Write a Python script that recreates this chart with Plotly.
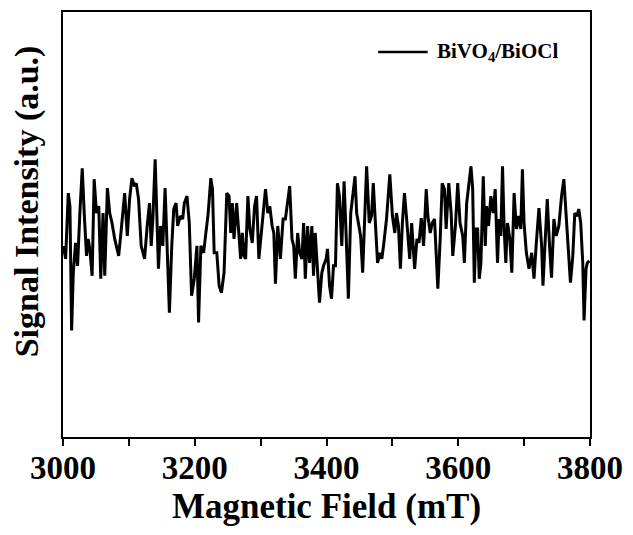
import plotly.graph_objects as go

# EPR spectrum
field_mT = [
    3000.5, 3004.0, 3008.0, 3010.5, 3013.1, 3015.6, 3019.1, 3022.1, 3025.6, 3029.2,
    3032.2, 3035.7, 3038.2, 3040.7, 3044.2, 3047.3, 3050.8, 3054.3, 3057.3, 3060.8,
    3063.4, 3067.4, 3070.9, 3074.4, 3078.5, 3084.5, 3088.5, 3093.6, 3097.6, 3101.1,
    3104.6, 3108.6, 3111.2, 3114.7, 3118.7, 3122.7,
    3123.8, 3127.8, 3131.3, 3133.9, 3136.4, 3139.9, 3142.9, 3144.9, 3148.0, 3151.5,
    3155.0, 3158.0, 3161.5, 3165.1, 3168.1, 3171.6, 3174.1, 3178.1, 3181.7, 3184.2,
    3188.2, 3191.7, 3195.2, 3199.3, 3203.3, 3205.8, 3209.3, 3213.4, 3216.9, 3220.4,
    3224.4, 3226.9, 3229.5, 3233.5, 3237.0, 3240.5, 3244.5, 3248.6, 3252.1, 3254.6,
    3257.1, 3259.6,
    3263.6, 3267.1, 3269.7, 3272.2, 3274.7, 3277.2, 3280.7, 3283.7, 3287.3, 3290.8,
    3293.8, 3297.3, 3300.9, 3303.9, 3307.4, 3310.9, 3313.9, 3317.5, 3320.0, 3322.5,
    3326.0, 3330.0, 3334.1, 3337.6, 3341.1, 3344.1, 3347.6, 3350.2, 3352.7, 3356.2,
    3359.2, 3362.7, 3365.3, 3367.8, 3371.3, 3374.3, 3377.8, 3380.3, 3382.9, 3386.4,
    3389.4, 3392.9,
    3395.5, 3399.5, 3401.5, 3404.6, 3407.6, 3410.6, 3413.6, 3416.6, 3419.6, 3423.2,
    3426.7, 3429.7, 3433.2, 3436.8, 3439.8, 3443.3, 3445.8, 3449.8, 3451.8, 3454.9,
    3458.4, 3460.9, 3464.9, 3468.4, 3471.0, 3475.0, 3477.5, 3481.0, 3484.0, 3487.1,
    3491.1, 3496.1, 3500.1, 3503.7, 3506.2, 3509.2, 3512.2, 3515.2, 3518.3, 3521.3,
    3524.3, 3526.3, 3529.3,
    3533.8, 3537.3, 3540.4, 3543.9, 3547.4, 3551.4, 3553.9, 3557.5, 3560.5, 3564.0,
    3566.5, 3569.0, 3572.6, 3575.6, 3579.1, 3581.6, 3585.6, 3589.2, 3591.7, 3595.7,
    3599.2, 3602.7, 3606.8, 3609.3, 3612.8, 3615.8, 3619.3, 3621.9, 3624.4, 3626.9,
    3629.4, 3631.9, 3634.4, 3638.0, 3641.0, 3643.0, 3646.0, 3649.5, 3653.1, 3656.1,
    3659.6, 3662.1, 3664.6,
    3667.2, 3669.7, 3672.2, 3674.7, 3678.3, 3681.3, 3684.8, 3688.3, 3691.3, 3694.9,
    3697.4, 3699.9, 3703.4, 3707.4, 3711.5, 3715.0, 3718.5, 3722.5, 3726.6, 3728.6,
    3731.6, 3735.1, 3738.6, 3741.6, 3745.2, 3748.7, 3752.7, 3756.8, 3760.3, 3763.8,
    3766.8, 3770.3, 3773.9, 3776.9, 3780.4, 3782.9, 3785.9, 3789.0, 3791.0, 3794.0,
    3796.0, 3799.0,
]
intensity = [
    0.05, -0.08, 0.58, 0.45, -0.80, -0.22, 0.08, -0.15, 0.38, 0.83,
    0.38, -0.05, 0.12, 0.02, -0.25, 0.72, 0.38, 0.45, -0.28, 0.38,
    -0.25, 0.63, 0.38, 0.28, 0.12, -0.05, 0.22, 0.58, 0.15, 0.52,
    0.73, 0.65, 0.68, 0.52, 0.05, -0.08,
    -0.08, 0.25, 0.48, 0.05, 0.32, 0.92, 0.25, -0.18, 0.25, 0.05,
    0.63, 0.05, -0.62, 0.05, 0.42, 0.48, 0.25, 0.35, 0.32, 0.48,
    0.55, 0.28, -0.45, -0.28, 0.05, -0.72, 0.05, -0.02, 0.18, 0.38,
    0.73, 0.62, -0.02, -0.02, -0.35, -0.42, -0.22, 0.58, 0.55, 0.18,
    0.48, 0.12,
    0.48, 0.12, -0.08, 0.18, -0.05, -0.08, 0.55, 0.22, 0.08, 0.45,
    0.55, -0.08, 0.18, 0.42, 0.62, 0.38, 0.45, 0.25, 0.18, -0.33,
    0.25, -0.08, 0.32, 0.32, 0.48, 0.65, 0.12, 0.05, -0.28, 0.18,
    -0.02, -0.08, 0.28, -0.28, 0.25, -0.12, 0.25, -0.25, 0.18, -0.22,
    -0.52, -0.22,
    -0.15, -0.08, 0.02, -0.35, -0.48, -0.15, -0.15, 0.68, 0.55, 0.05,
    0.70, 0.18, -0.48, 0.38, 0.55, 0.75, 0.38, 0.25, 0.15, -0.22,
    0.38, 0.85, 0.28, 0.35, 0.68, 0.12, -0.12, -0.02, -0.08, 0.08,
    0.32, 0.77, 0.35, 0.18, 0.38, 0.25, -0.18, 0.28, 0.58, 0.35,
    0.05, -0.08, 0.28,
    -0.18, 0.12, 0.08, 0.33, 0.05, 0.62, 0.35, 0.18, 0.28, 0.32,
    -0.05, -0.38, 0.12, 0.68, 0.62, 0.22, 0.68, 0.38, -0.05, 0.25,
    0.68, 0.28, 0.15, -0.12, 0.48, 0.68, 0.85, 0.62, -0.32, 0.22,
    0.22, -0.28, -0.12, 0.75, 0.05, 0.45, 0.25, 0.55, 0.38, 0.62,
    -0.12, 0.32, 0.15,
    0.85, 0.22, -0.12, 0.28, 0.12, -0.22, 0.58, 0.22, 0.35, 0.22,
    0.82, 0.28, -0.02, -0.18, -0.02, -0.28, 0.08, 0.43, 0.05, -0.35,
    0.05, 0.52, 0.05, -0.27, 0.32, 0.15, 0.25, 0.55, 0.72, 0.38,
    -0.02, -0.32, -0.05, 0.38, 0.35, 0.42, 0.28, -0.12, -0.70, -0.18,
    -0.12, -0.10,
]
x_ticks = [3000, 3200, 3400, 3600, 3800]
series_name = "BiVO<sub>4</sub>/BiOCl"

font_family = "Liberation Serif"

fig = go.Figure()
fig.add_trace(go.Scatter(x=field_mT, y=intensity, mode="lines",
                         line=dict(color="black", width=3),
                         name=series_name, showlegend=False))

# legend drawn by hand so the sample line is as long as in the original
fig.add_shape(type="line", xref="paper", yref="paper",
              x0=0.598, x1=0.692, y0=0.906, y1=0.906,
              line=dict(color="black", width=2.6))
fig.add_annotation(xref="paper", yref="paper", x=0.706, y=0.906,
                   xanchor="left", yanchor="middle", showarrow=False,
                   text=series_name,
                   font=dict(family=font_family, size=21, color="black", weight="bold"))

# y title sits a little above the middle of the frame in the original
fig.add_annotation(xref="paper", yref="paper", x=-0.068, y=0.555,
                   xanchor="center", yanchor="middle", showarrow=False,
                   textangle=-90, text="Signal Intensity (a.u.)",
                   font=dict(family=font_family, size=34, color="black", weight="bold"))

fig.update_xaxes(range=[3000, 3800], tickvals=x_ticks,
                 ticks="outside", ticklen=7, tickwidth=2, tickcolor="black",
                 minor=dict(dtick=100, ticks="outside", ticklen=7, tickwidth=2, tickcolor="black"),
                 showline=True, linewidth=2, linecolor="black", mirror=True,
                 showgrid=False, zeroline=False, ticklabelstandoff=-7,
                 tickfont=dict(family=font_family, size=33, color="black", weight="bold"),
                 title=dict(text="Magnetic Field (mT)", standoff=9,
                            font=dict(family=font_family, size=35, color="black", weight="bold")))
fig.update_yaxes(range=[-1.87, 2.40], showticklabels=False, ticks="",
                 showline=True, linewidth=2, linecolor="black", mirror=True,
                 showgrid=False, zeroline=False)

fig.update_layout(width=633, height=535,
                  margin=dict(t=10, l=63, r=40, b=98),
                  plot_bgcolor="white", paper_bgcolor="white",
                  showlegend=False)
fig.write_html("out.html", config={"displayModeBar": False},
               post_script="document.body.style.margin='0px';")
